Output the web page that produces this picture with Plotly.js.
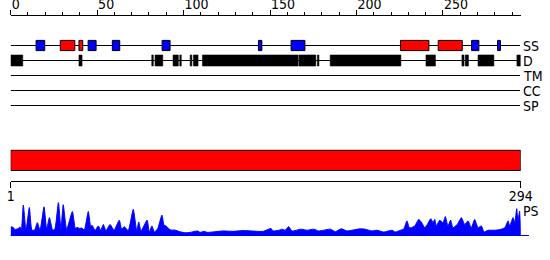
<!DOCTYPE html>
<html>
<head>
<meta charset="utf-8">
<script src="https://cdn.plot.ly/plotly-3.0.1.min.js"></script>
<style>
  html, body { margin: 0; padding: 0; background: #fff; }
  #chart { width: 550px; height: 260px; }
</style>
</head>
<body>
<div id="chart"></div>
<script>
// ---- data ----
const seqLength = 294;
const topTickLabels = [0, 50, 100, 150, 200, 250];
const bottomTickVals = [1, 294];
const bottomTickText = ['1', '294'];
const trackNames = ['SS', 'D', 'TM', 'CC', 'SP'];

// secondary structure segments (H = helix, red; E = strand, blue)
const ssStart = [14.7, 28.7, 39.5, 44.8, 58.8, 87.6, 143.3, 162.2, 225.5, 247.3, 266.6, 281.6];
const ssEnd   = [19.7, 37.1, 41.7, 49.4, 63.1, 92.2, 145.3, 170.2, 241.9, 261.2, 270.8, 283.3];
const ssType  = ['E', 'H', 'H', 'E', 'E', 'E', 'E', 'E', 'H', 'H', 'E', 'E'];

// disorder segments
const dStart = [0, 39.5, 81.6, 83.5, 93.9, 97.8, 103.8, 105.7, 110.9, 166.8, 177.4, 184.8, 240.2, 261.0, 262.9, 270.3, 292.8];
const dEnd   = [7.0, 41.3, 82.5, 88.0, 97.0, 98.7, 104.8, 108.4, 166.3, 176.5, 178.3, 225.7, 245.7, 262.2, 264.8, 279.5, 294.9];

// whole-sequence domain bar
const barStart = [1];
const barEnd = [294];

// PS profile
const psPos = [0, 1.2, 2.5, 4.4, 5.4, 6.2, 7.3, 8.9, 10.8, 12.3, 13.9, 15.4, 17, 19.3, 20.8, 22.4, 24.3, 25.6, 27.6, 29.1,
  30.4, 32.4, 35.7, 37.4, 38.5, 39.7, 41.1, 42.6, 44.9, 46.3, 47, 48.8, 50.7, 52.1, 53.6, 55.1, 57.5, 59.8, 62.8, 64.2,
  65.7, 68, 70.9, 72.9, 74.1, 75.4, 78.9, 80.2, 81.7, 83.1, 85, 87.5, 88.7, 89.8, 91.8, 93.3, 94.6, 96.6, 97.9, 99.7,
  101.4, 103.7, 108.2, 109.5, 112, 113.6, 122.6, 128.6, 135.1, 142.5, 146.1, 150.6, 151.7, 155.2, 157, 158.7, 160.8, 162.7, 168.1, 171.4,
  175.3, 178.2, 184.9, 187.8, 191.2, 194.5, 202.2, 205, 209, 211.9, 215.8, 220.6, 222.5, 225.4, 227.3, 229.2, 230.6, 231.7, 233.7, 236,
  237.5, 239.5, 241, 243, 244.3, 245.3, 246.2, 248.2, 250.1, 251.4, 252.9, 254.5, 255.8, 258.3, 260.7, 262.6, 264.5, 266.4, 268.4, 270.3,
  272.2, 273.8, 276.1, 280.2, 283.1, 285.8, 287.7, 288.6, 290.6, 291.6, 292.7, 293.4, 294.4, 295];
const psVal = [0.25, 0.25, 0.18, 0.21, 0.25, 0.18, 0.86, 0.16, 0.79, 0.16, 0.17, 0.37, 0.16, 0.81, 0.19, 0.51, 0.16, 0.2, 0.93, 0.19,
  0.87, 0.18, 0.68, 0.21, 0.24, 0.21, 0.22, 0.17, 0.68, 0.26, 0.3, 0.16, 0.28, 0.16, 0.32, 0.15, 0.32, 0.16, 0.44, 0.19,
  0.26, 0.15, 0.74, 0.15, 0.39, 0.14, 0.44, 0.11, 0.28, 0.11, 0.2, 0.58, 0.3, 0.28, 0.19, 0.16, 0.17, 0.14, 0.12, 0.1,
  0.09, 0.1, 0.14, 0.1, 0.13, 0.1, 0.14, 0.13, 0.15, 0.13, 0.13, 0.21, 0.14, 0.16, 0.19, 0.16, 0.26, 0.14, 0.19, 0.16,
  0.19, 0.14, 0.19, 0.12, 0.2, 0.14, 0.2, 0.19, 0.14, 0.16, 0.11, 0.16, 0.11, 0.16, 0.19, 0.42, 0.23, 0.23, 0.28, 0.46,
  0.39, 0.23, 0.32, 0.48, 0.37, 0.46, 0.28, 0.44, 0.37, 0.54, 0.28, 0.44, 0.23, 0.32, 0.51, 0.32, 0.42, 0.23, 0.46, 0.23,
  0.28, 0.11, 0.16, 0.16, 0.18, 0.23, 0.42, 0.28, 0.51, 0.37, 0.76, 0.42, 0.69, 0];

// ---- layout helpers (pixel geometry) ----
const W = 550, H = 260;
const xL = 10.67, xR = 520.7;
const trackTopPx = 45.5, trackStepPx = 15;
const yTop = -trackTopPx / trackStepPx;
const yBot = (H - trackTopPx) / trackStepPx;
const pxToTrack = p => (p - trackTopPx) / trackStepPx;
const FONT = 'Liberation Sans Narrow, DejaVu Sans Condensed, Arial Narrow, sans-serif';
const boxHalf = 0.34;

const shapes = [];
// track lines
trackNames.forEach((n, i) => {
  shapes.push({type: 'line', xref: 'x', yref: 'y', x0: 0, x1: seqLength + 0.6, y0: i, y1: i,
    line: {color: '#000', width: 1}, layer: 'below'});
});
// SS boxes
ssStart.forEach((s, k) => {
  shapes.push({type: 'rect', xref: 'x', yref: 'y', x0: s, x1: ssEnd[k], y0: 0 - boxHalf, y1: 0 + boxHalf,
    fillcolor: ssType[k] === 'H' ? '#ff0000' : '#0000ff', line: {color: '#000', width: 1}});
});
// disorder boxes
dStart.forEach((s, k) => {
  shapes.push({type: 'rect', xref: 'x', yref: 'y', x0: s, x1: dEnd[k], y0: 1 - boxHalf - 0.03, y1: 1 + boxHalf + 0.03,
    fillcolor: '#000', line: {color: '#000', width: 0.5}});
});
// PS baseline
shapes.push({type: 'line', xref: 'paper', yref: 'paper', x0: xL / W, x1: 529 / W, y0: (H - 235.5) / H, y1: (H - 235.5) / H,
  line: {color: '#0000ff', width: 1}});

const annotations = trackNames.map((n, i) => ({
  text: n, xref: 'paper', yref: 'y', x: 520.5 / W, y: i + 0.05, xanchor: 'left', yanchor: 'middle',
  showarrow: false, font: {family: FONT, size: 14, color: '#000'}
}));
annotations.push({text: 'PS', xref: 'paper', yref: 'paper', x: 521 / W, y: (H - 211) / H, xanchor: 'left', yanchor: 'middle',
  showarrow: false, font: {family: FONT, size: 14, color: '#000'}});

const y0b = pxToTrack(150.3), y1b = pxToTrack(170.5);
const traces = [
  {x: [barStart[0], barEnd[0], barEnd[0], barStart[0], barStart[0]], y: [y0b, y0b, y1b, y1b, y0b],
   xaxis: 'x2', yaxis: 'y', mode: 'lines', fill: 'toself', fillcolor: '#ff0000',
   line: {color: '#000', width: 1}, hoverinfo: 'skip'},
  {x: psPos, y: psVal, xaxis: 'x', yaxis: 'y2', mode: 'lines', fill: 'tozeroy', fillcolor: '#0000ff',
   line: {color: '#0000ff', width: 1, shape: 'spline', smoothing: 0.5}, hoverinfo: 'skip'}
];

const layout = {
  width: W, height: H,
  margin: {l: 0, r: 0, t: 0, b: 0, pad: 0},
  paper_bgcolor: '#fff', plot_bgcolor: 'rgba(0,0,0,0)',
  showlegend: false,
  font: {family: FONT, size: 14, color: '#000'},
  xaxis: {
    domain: [xL / W, xR / W], range: [0, 295], side: 'top', anchor: 'free', position: (H - 14.5) / H,
    tickmode: 'array', tickvals: topTickLabels, ticktext: topTickLabels.map(String),
    ticks: 'outside', ticklen: 5, tickwidth: 1, tickcolor: '#000',
    minor: {tickmode: 'linear', tick0: 0, dtick: 10, ticks: 'outside', ticklen: 3, tickcolor: '#000', showgrid: false},
    ticklabelposition: 'outside right',
    showline: true, linecolor: '#000', linewidth: 1, showgrid: false, zeroline: false,
    tickfont: {family: FONT, size: 14, color: '#000'}, fixedrange: true
  },
  xaxis2: {
    domain: [xL / W, xR / W], range: [1, 294], side: 'bottom', anchor: 'free', overlaying: 'x',
    position: (H - 180.5) / H,
    tickmode: 'array', tickvals: bottomTickVals, ticktext: bottomTickText,
    ticks: 'outside', ticklen: 6, tickwidth: 1, tickcolor: '#000', ticklabelstandoff: -3,
    showline: true, linecolor: '#000', linewidth: 1, showgrid: false, zeroline: false,
    tickfont: {family: FONT, size: 14, color: '#000'}, fixedrange: true
  },
  yaxis: {domain: [0, 1], range: [yBot, yTop], visible: false, showgrid: false, zeroline: false, fixedrange: true},
  yaxis2: {domain: [(H - 236) / H, (H - 200) / H], range: [0, 1], visible: false, anchor: 'free', position: 0, fixedrange: true},
  shapes: shapes,
  annotations: annotations
};

Plotly.newPlot('chart', traces, layout, {staticPlot: true, displayModeBar: false});
</script>
</body>
</html>
